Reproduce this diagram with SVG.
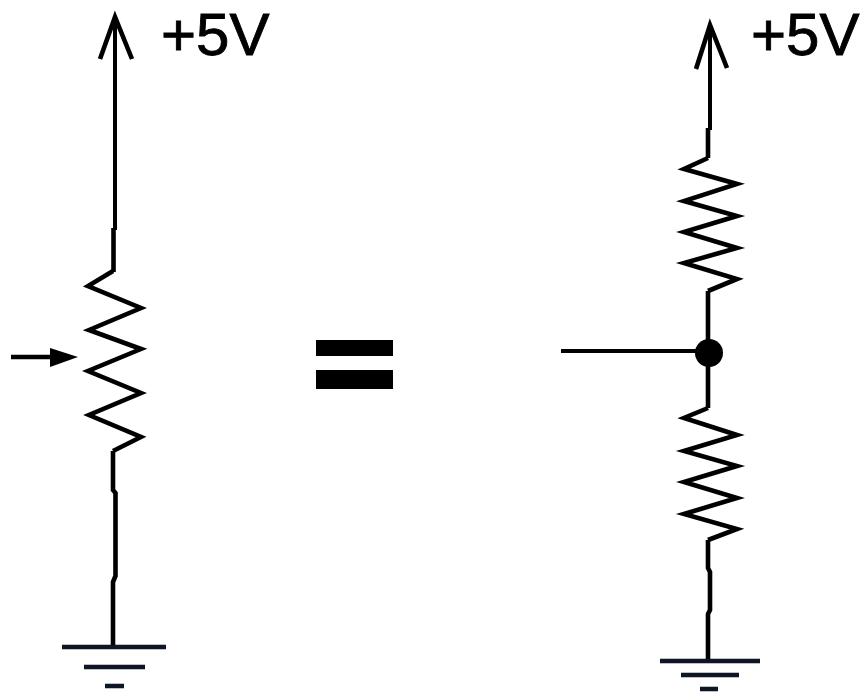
<svg xmlns="http://www.w3.org/2000/svg" width="860" height="692" viewBox="0 0 860 692">
<style>
.w{fill:none;stroke:#000;stroke-width:4.6;stroke-linejoin:miter;stroke-miterlimit:5}
.t{stroke-width:4}
.g{fill:none;stroke:#0c1220;stroke-width:4.6}
.l{font-family:"Liberation Sans",Arial,sans-serif;font-size:60px;fill:#000;stroke:#000;stroke-width:0.9}
</style>
<defs><filter id="soft" filterUnits="userSpaceOnUse" x="0" y="0" width="860" height="692"><feGaussianBlur stdDeviation="0.7"/></filter></defs>
<rect width="860" height="692" fill="#fff"/>
<g filter="url(#soft)">
<g id="connectors">
<path class="w t" d="M115 18V230"/>
<path class="w" d="M113.500 228V272"/>
<path class="w" d="M113 451V490L115.500 493V576L113 582V647"/>
<path class="w t" d="M710 26V130"/>
<path class="w" d="M708 128V158"/>
<path class="w" d="M708 291V340"/>
<path class="w" d="M708 366V408"/>
<path class="w t" d="M561 351H700"/>
<path class="w" d="M708 540V568L710 572V610L708 614V661"/>
<path class="w" d="M11 357H52"/>
<path d="M50 348L78 357L50 367Z" fill="#000"/>
</g>
<g id="supply-left"><path class="w" d="M100 59L115 17L132 59"/><text class="l" x="161" y="55">+5V</text></g>
<g id="supply-right"><path class="w" d="M696 69L710 25L727 68"/><text class="l" x="751" y="55">+5V</text></g>
<g id="potentiometer"><path class="w" d="M113 271L88 286L141 308L89 330L141 349L88 371L141 393L89 415L141 437L113 451"/></g>
<g id="resistor-top"><path class="w" d="M708 158L684 169L737 184L684 201L737 216L684 232L737 248L684 263L737 279L708 291"/></g>
<g id="resistor-bottom"><path class="w" d="M708 408L684 418L737 435L684 451L737 466L684 482L737 498L684 514L737 529L708 540"/></g>
<g id="junction"><circle cx="709" cy="353" r="14" fill="#000"/></g>
<g id="equals"><rect x="316" y="340" width="77" height="16" fill="#000"/><rect x="316" y="370" width="77" height="19" fill="#000"/></g>
<g id="ground-left"><path class="g" d="M62 647H166M84 667H145M105 686H124"/></g>
<g id="ground-right"><path class="g" d="M660 661H760M681 675H739M700 689H718"/></g>
</g>
</svg>
